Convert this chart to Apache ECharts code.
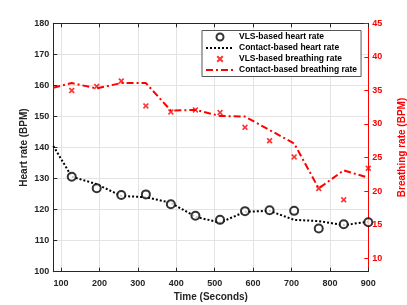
<!DOCTYPE html>
<html><head><meta charset="utf-8">
<script src="https://cdn.jsdelivr.net/npm/echarts@6/dist/echarts.min.js"></script>
<style>html,body{margin:0;padding:0;background:#fff}#c{width:407px;height:305px}</style>
</head><body><div id="c"></div>
<script>
// Data
const times = [128, 193, 257, 321, 386, 450, 514, 579, 643, 707, 771, 836, 900];
const vlsHeart = [130.6, 126.9, 124.7, 124.9, 121.7, 118.0, 116.7, 119.5, 119.8, 119.6, 113.9, 115.3, 115.9];
const contactTimes = [80, 128, 193, 257, 321, 386, 450, 514, 579, 643, 707, 771, 836, 900];
const contactHeart = [140.5, 130.6, 128.2, 124.4, 124.0, 122.2, 117.7, 115.8, 119.3, 119.6, 116.7, 116.3, 115.0, 116.1];
const vlsBreath = [35.0, 35.6, 36.4, 32.7, 31.8, 32.1, 31.7, 29.5, 27.5, 25.1, 20.4, 18.7, 23.4];
const contactBreath = [35.4, 36.1, 35.3, 36.1, 36.1, 32.0, 32.1, 31.2, 31.1, 29.1, 27.1, 20.4, 23.1, 22.0];
const xTicks = [100, 200, 300, 400, 500, 600, 700, 800, 900];
const leftTicks = [100, 110, 120, 130, 140, 150, 160, 170, 180];
const rightTicks = [10, 15, 20, 25, 30, 35, 40, 45];

const pair = (xs, ys) => xs.map((x, i) => [x, ys[i]]);
const dark = '#262626';
const red = '#ff0000';
const font = 'Liberation Sans, Arial, sans-serif';
const xMark = 'path://M2,0 L5,3 L8,0 L10,2 L7,5 L10,8 L8,10 L5,7 L2,10 L0,8 L3,5 L0,2 Z';

const chart = echarts.init(document.getElementById('c'), null, {renderer: 'canvas'});
chart.setOption({
  animation: false,
  backgroundColor: '#fff',
  textStyle: {fontFamily: font},
  grid: {left: 53.3, right: 38.7, top: 23.3, bottom: 33.3, containLabel: false, outerBoundsMode: 'none'},
  legend: {
    orient: 'vertical', left: 202, top: 30.5,
    backgroundColor: '#fff', borderColor: '#555', borderWidth: 1, borderRadius: 0,
    padding: [2, 4, 2, 3], itemGap: 2, itemWidth: 28, itemHeight: 7,
    textStyle: {fontFamily: font, fontSize: 8.5, fontWeight: 'bold', color: '#000'},
    data: [
      {name: 'VLS-based heart rate'},
      {name: 'Contact-based heart rate', itemStyle: {opacity: 0}},
      {name: 'VLS-based breathing rate'},
      {name: 'Contact-based breathing rate', itemStyle: {opacity: 0}}
    ]
  },
  xAxis: [{
    type: 'value', min: 80, max: 900,
    name: 'Time (Seconds)', nameLocation: 'middle', nameGap: 21, nameMoveOverlap: false,
    nameTextStyle: {fontFamily: font, fontSize: 10, fontWeight: 'bold', color: dark},
    axisLine: {show: true, onZero: false, lineStyle: {color: dark, width: 1}},
    axisTick: {show: true, inside: true, length: 4, customValues: xTicks, lineStyle: {color: dark}},
    axisLabel: {customValues: xTicks, margin: 7, fontSize: 9, fontWeight: 'bold', color: dark, fontFamily: font},
    splitLine: {show: true, lineStyle: {color: '#e3e3e3', width: 1}}
  }, {
    type: 'value', min: 80, max: 900, position: 'top',
    axisLine: {show: true, onZero: false, lineStyle: {color: dark, width: 1}},
    axisTick: {show: true, inside: true, length: 4, customValues: xTicks, lineStyle: {color: dark}},
    axisLabel: {show: false},
    splitLine: {show: false}
  }],
  yAxis: [{
    type: 'value', min: 100, max: 180, interval: 10, position: 'left',
    name: 'Heart rate (BPM)', nameLocation: 'middle', nameGap: 24, nameMoveOverlap: false,
    nameTextStyle: {fontFamily: font, fontSize: 10, fontWeight: 'bold', color: dark},
    axisLine: {show: true, onZero: false, lineStyle: {color: dark, width: 1}},
    axisTick: {show: true, inside: true, length: 4, lineStyle: {color: dark}},
    axisLabel: {margin: 4, fontSize: 9, fontWeight: 'bold', color: dark, fontFamily: font},
    splitLine: {show: true, lineStyle: {color: '#e3e3e3', width: 1}}
  }, {
    type: 'value', min: 8, max: 45, position: 'right',
    name: 'Breathing rate (BPM)', nameLocation: 'middle', nameGap: 29, nameRotate: 90, nameMoveOverlap: false,
    nameTextStyle: {fontFamily: font, fontSize: 10, fontWeight: 'bold', color: red},
    axisLine: {show: true, onZero: false, lineStyle: {color: red, width: 1}},
    axisTick: {show: true, inside: true, length: 4, customValues: rightTicks, lineStyle: {color: red}},
    axisLabel: {customValues: rightTicks, margin: 4, fontSize: 9, fontWeight: 'bold', color: red, fontFamily: font},
    splitLine: {show: false}
  }],
  series: [{
    name: 'Contact-based breathing rate', type: 'line', yAxisIndex: 1,
    data: pair(contactTimes, contactBreath), showSymbol: false, symbol: 'none',
    lineStyle: {color: red, width: 2, type: [7, 3, 2, 3]}, itemStyle: {color: red}, z: 2
  }, {
    name: 'VLS-based breathing rate', type: 'scatter', yAxisIndex: 1,
    data: pair(times, vlsBreath), symbol: xMark, symbolSize: 6,
    itemStyle: {color: red}, z: 3
  }, {
    name: 'Contact-based heart rate', type: 'line', yAxisIndex: 0,
    data: pair(contactTimes, contactHeart), showSymbol: false, symbol: 'none',
    lineStyle: {color: '#000', width: 2, type: [2, 2]}, itemStyle: {color: '#000'}, z: 2
  }, {
    name: 'VLS-based heart rate', type: 'scatter', yAxisIndex: 0,
    data: pair(times, vlsHeart), symbol: 'emptyCircle', symbolSize: 8,
    itemStyle: {color: '#000', borderWidth: 1.6}, z: 3
  }]
});
</script>
</body></html>
